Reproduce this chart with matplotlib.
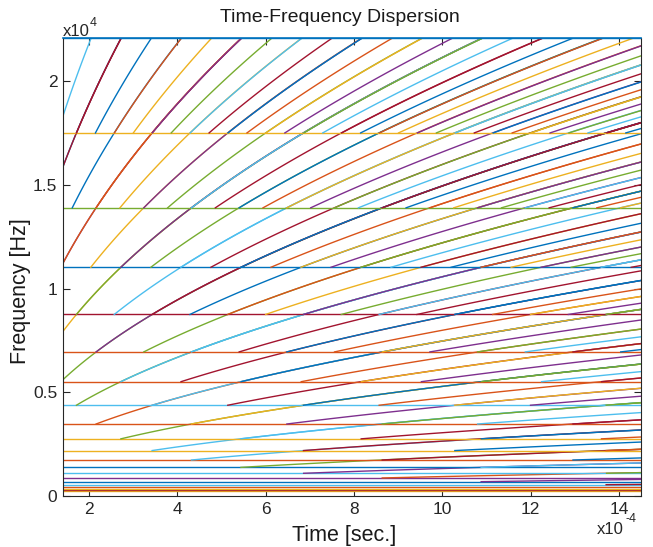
import numpy as np
import matplotlib
matplotlib.use('Agg')
import matplotlib.pyplot as plt

plt.rcParams['font.family'] = ['Liberation Sans', 'DejaVu Sans']

# MATLAB default colour order
colors = ['#0072BD', '#D95319', '#EDB120', '#7E2F8E', '#77AC30', '#4DBEEE', '#A2142F']

# band edges (Hz), top to bottom
band_freqs = [22050, 17500, 13890, 11025, 8750, 6945, 5510, 4375, 3470, 2755,
              2190, 1735, 1380, 1095, 870, 690, 545, 435, 345, 275, 220]
# spacing of the departures along each band edge (x1e-4 s)
band_spacing = [0.34, 0.429, 0.540, 0.680, 0.857, 1.080, 1.361, 1.714, 2.160, 2.721,
                3.428, 4.32, 5.44, 6.86, 8.64, 10.88, 13.71, 17.3, 21.8, 27.4, 34.5]
# colour index of the flat line on each band edge
flat_color = [0, 2, 4, 0, 6, 1, 1, 5, 1, 2, 2, 1, 0, 5, 3, 0, 5, 1, 2, 6, 2]
# colour offset of the rising lines leaving each band edge
rise_offset = [0, 2, 4, 6, 2, 1, 3, 3, 0, 3, 4, 4, 3, 2, 0, 2, 5, 1, 4, 2, 3]
# dispersion exponent: t grows with f**2 along a line
disp_exp = 2.0

t_lo, t_hi = 1.41e-4, 14.5e-4
f_top = 22050

fig = plt.figure(figsize=(6.53, 5.47), dpi=100)
ax = fig.add_axes([63/653, 1-496/547, (641-63)/653, (496-38.5)/547])

# low bands first, so higher bands end up on top
for k in reversed(range(len(band_freqs))):
    fk = band_freqs[k]
    ax.plot([0, t_hi*1.2], [fk, fk], color=colors[flat_color[k]], lw=1.0)
    if k == 0:
        continue
    dt = band_spacing[k]*1e-4
    n = 1
    while n*dt <= t_hi:
        t0 = n*dt
        t_end = min(t0*(f_top/fk)**disp_exp, t_hi*1.05)
        t = np.linspace(t0, t_end, 120)
        f = fk*(t/t0)**(1/disp_exp)
        ax.plot(t, f, color=colors[(rise_offset[k] + n) % 7], lw=1.0)
        n += 1

ax.set_xlim(t_lo, t_hi)
ax.set_ylim(0, f_top)

xt = [2, 4, 6, 8, 10, 12, 14]
ax.set_xticks([v*1e-4 for v in xt])
ax.set_xticklabels([str(v) for v in xt])
ax.set_yticks([0, 5000, 10000, 15000, 20000])
ax.set_yticklabels(['0', '0.5', '1', '1.5', '2'])
ax.tick_params(direction='in', top=True, right=True, length=5, width=0.8,
               labelsize=12.5, colors='#262626', pad=4)
for s in ax.spines.values():
    s.set_color('#262626')
    s.set_linewidth(0.8)
ax.spines['top'].set_color(colors[0])
ax.spines['top'].set_linewidth(1.2)

fig.text(340/653, 1-18/547, 'Time-Frequency Dispersion', fontsize=14,
         ha='center', va='center', color='#1a1a1a')
fig.text(344/653, 1-535/547, 'Time [sec.]', fontsize=15.5,
         ha='center', va='center', color='#1a1a1a')
fig.text(21/653, 1-291/547, 'Frequency [Hz]', fontsize=15.5, rotation=90,
         ha='center', va='center', color='#1a1a1a')
fig.text(63/653, 1-32/547, 'x10', fontsize=12, ha='left', va='center', color='#262626')
fig.text(90/653, 1-23/547, '4', fontsize=9, ha='left', va='center', color='#262626')
fig.text(597/653, 1-529/547, 'x10', fontsize=12, ha='left', va='center', color='#262626')
fig.text(625/653, 1-519/547, '-4', fontsize=9, ha='left', va='center', color='#262626')

fig.savefig('out.png', dpi=100)
